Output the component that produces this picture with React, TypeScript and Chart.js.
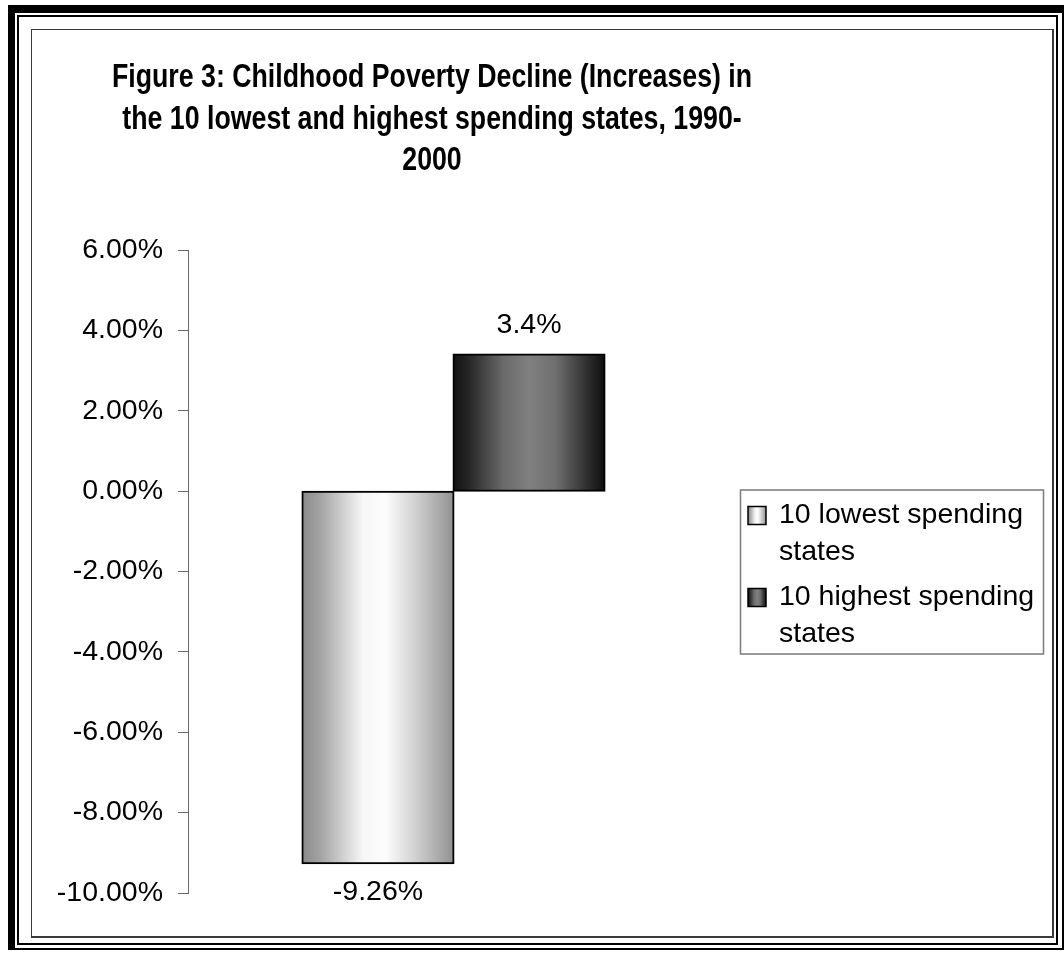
import React, { useEffect, useRef } from "react";
import { Chart, registerables } from "chart.js";

Chart.register(...registerables);

// ---------- data ----------
const categories = ["1990-2000"];
const seriesNames = ["10 lowest spending states", "10 highest spending states"];
const lowestValues = [-9.26];
const highestValues = [3.4];
const lowestLabels = ["-9.26%"];
const highestLabels = ["3.4%"];
const titleLines = [
  "Figure 3: Childhood Poverty Decline (Increases) in",
  "the 10 lowest and highest spending states, 1990-",
  "2000",
];
const yMin = -10;
const yMax = 6;
const yStep = 2;

// ---------- style ----------
const FONT = '"Liberation Sans", Arial, Helvetica, sans-serif';
const lightStops: [number, string][] = [
  [0, "#8a8a8a"],
  [0.12, "#a4a4a4"],
  [0.4, "#f6f6f6"],
  [0.55, "#fdfdfd"],
  [0.75, "#d0d0d0"],
  [1, "#929292"],
];
const darkStops: [number, string][] = [
  [0, "#121212"],
  [0.1, "#262626"],
  [0.33, "#6a6a6a"],
  [0.5, "#808080"],
  [0.67, "#707070"],
  [0.9, "#2a2a2a"],
  [1, "#0e0e0e"],
];
const stopsByDataset = [lightStops, darkStops];

function makeGradient(ctx: CanvasRenderingContext2D, x0: number, x1: number, stops: [number, string][]) {
  const g = ctx.createLinearGradient(x0, 0, x1, 0);
  stops.forEach(([p, c]) => g.addColorStop(p, c));
  return g;
}

const gradientPlugin = {
  id: "barGradient",
  beforeDatasetsDraw(chart: any) {
    const ctx = chart.ctx;
    chart.data.datasets.forEach((_: any, di: number) => {
      const meta = chart.getDatasetMeta(di);
      meta.data.forEach((el: any) => {
        const { x, width } = el.getProps(["x", "width"], true);
        el.options.backgroundColor = makeGradient(ctx, x - width / 2, x + width / 2, stopsByDataset[di]);
      });
    });
  },
};

const valueLabelPlugin = {
  id: "valueLabels",
  afterDatasetsDraw(chart: any) {
    const ctx = chart.ctx;
    ctx.save();
    ctx.font = `28.5px ${FONT}`;
    ctx.fillStyle = "#000";
    ctx.textAlign = "center";
    ctx.textBaseline = "middle";
    chart.data.datasets.forEach((ds: any, di: number) => {
      const meta = chart.getDatasetMeta(di);
      meta.data.forEach((el: any, i: number) => {
        const v = ds.data[i];
        const { x, y } = el.getProps(["x", "y"], true);
        const ty = v >= 0 ? y - 29 : y + 29;
        ctx.fillText(ds.valueLabels[i], x, ty);
      });
    });
    ctx.restore();
  },
};

const titlePlugin = {
  id: "customTitle",
  afterDraw(chart: any) {
    const ctx = chart.ctx;
    ctx.save();
    ctx.font = `bold 33px ${FONT}`;
    ctx.fillStyle = "#000";
    ctx.textAlign = "center";
    ctx.textBaseline = "middle";
    const cx = 400;
    const top = 48;
    const lh = 41.5;
    titleLines.forEach((line, i) => {
      ctx.save();
      ctx.translate(cx, top + i * lh);
      ctx.scale(0.81, 1);
      ctx.fillText(line, 0, 0);
      ctx.restore();
    });
    ctx.restore();
  },
};

const legendPlugin = {
  id: "customLegend",
  afterDraw(chart: any) {
    const ctx = chart.ctx;
    const area = chart.chartArea;
    const boxW = 303;
    const boxH = 164;
    const left = area.right + 21;
    const top = (area.top + area.bottom) / 2 - boxH / 2;
    ctx.save();
    ctx.strokeStyle = "#7a7a7a";
    ctx.lineWidth = 1.5;
    ctx.strokeRect(left + 0.5, top + 0.5, boxW, boxH);
    ctx.font = `28.5px ${FONT}`;
    ctx.fillStyle = "#000";
    ctx.textAlign = "left";
    ctx.textBaseline = "middle";
    const textX = left + 39;
    const maxW = left + boxW - 4 - textX;
    const lh = 37;
    let cy = top + 26;
    chart.data.datasets.forEach((ds: any, di: number) => {
      const words = String(ds.label).split(" ");
      const lines: string[] = [];
      let cur = "";
      words.forEach((w) => {
        const t = cur ? cur + " " + w : w;
        if (ctx.measureText(t).width > maxW && cur) {
          lines.push(cur);
          cur = w;
        } else cur = t;
      });
      if (cur) lines.push(cur);
      const mx = left + 8;
      const ms = 18;
      ctx.fillStyle = makeGradient(ctx, mx, mx + ms, stopsByDataset[di]);
      ctx.fillRect(mx, cy - ms / 2, ms, ms);
      ctx.strokeStyle = "#000";
      ctx.lineWidth = 1.5;
      ctx.strokeRect(mx, cy - ms / 2, ms, ms);
      ctx.fillStyle = "#000";
      lines.forEach((ln, li) => ctx.fillText(ln, textX, cy + li * lh));
      cy += lines.length * lh + 8;
    });
    ctx.restore();
  },
};

function BarChart() {
  const ref = useRef<HTMLCanvasElement | null>(null);
  useEffect(() => {
    if (!ref.current) return;
    const common = {
      borderColor: "#000",
      borderWidth: 2,
      borderSkipped: false,
      inflateAmount: 1,
      barPercentage: 1,
      categoryPercentage: 0.569,
    };
    const chart = new Chart(ref.current, {
      type: "bar",
      data: {
        labels: categories,
        datasets: [
          {
            label: seriesNames[0],
            data: lowestValues,
            valueLabels: lowestLabels,
            backgroundColor: "#cccccc",
            ...common,
          } as any,
          {
            label: seriesNames[1],
            data: highestValues,
            valueLabels: highestLabels,
            backgroundColor: "#555555",
            ...common,
          } as any,
        ],
      },
      options: {
        responsive: false,
        animation: false,
        events: [],
        layout: { padding: { left: 0, top: 220, right: 333, bottom: 43 } },
        plugins: {
          legend: { display: false },
          title: { display: false },
          tooltip: { enabled: false },
        },
        scales: {
          x: { display: false },
          y: {
            min: yMin,
            max: yMax,
            ticks: {
              stepSize: yStep,
              color: "#000",
              padding: 15,
              font: { family: FONT, size: 28.5 },
              callback: (v: any) => Number(v).toFixed(2) + "%",
            },
            grid: { drawOnChartArea: false, drawTicks: true, tickLength: 10, color: "#6a6a6a", lineWidth: 1 },
            border: { display: true, color: "#6a6a6a", width: 1 },
            afterFit: (s: any) => {
              s.width = 156;
            },
          },
        },
      } as any,
      plugins: [gradientPlugin, valueLabelPlugin, titlePlugin, legendPlugin],
    });
    return () => chart.destroy();
  }, []);
  return <canvas ref={ref} width={1020} height={906} style={{ display: "block", width: 1020, height: 906 }} />;
}

export default function App() {
  return (
    <div>
      <div
        style={{
          position: "absolute",
          left: 8,
          top: 5,
          width: 1056 - 7 - 2,
          height: 945 - 8 - 2,
          borderStyle: "solid",
          borderColor: "#000",
          borderTopWidth: 8,
          borderLeftWidth: 7,
          borderRightWidth: 2,
          borderBottomWidth: 2,
          background: "#fff",
        }}
      />
      <div
        style={{
          position: "absolute",
          left: 17,
          top: 15,
          width: 1041 - 4,
          height: 930 - 4,
          border: "2px solid #000",
        }}
      />
      <div
        style={{
          position: "absolute",
          left: 31,
          top: 29,
          width: 1020,
          height: 906,
          borderStyle: "solid",
          borderColor: "#3a3a3a",
          borderTopWidth: 1,
          borderLeftWidth: 1,
          borderRightWidth: 2,
          borderBottomWidth: 2,
          background: "#fff",
        }}
      >
        <BarChart />
      </div>
    </div>
  );
}
